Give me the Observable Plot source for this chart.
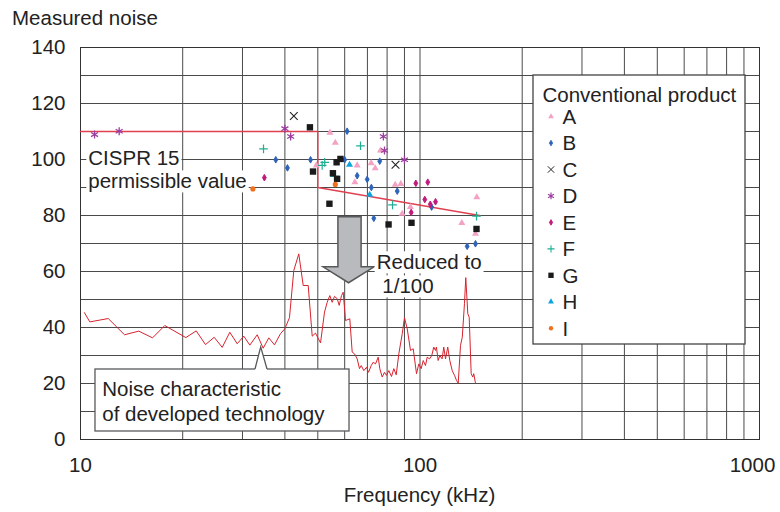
<!DOCTYPE html>
<html><head><meta charset="utf-8">
<script src="https://cdn.jsdelivr.net/npm/d3@7"></script>
<script src="https://cdn.jsdelivr.net/npm/@observablehq/plot@0.6"></script>
<style>
html,body{margin:0;padding:0;background:#fff;}
svg{display:block;}
</style></head><body>
<script>
// ---- tick / grid values ----
const yTicks = [0, 20, 40, 60, 80, 100, 120, 140];
const xTicks = [10, 100, 1000];
const xGrid = [10, 20, 30, 40, 50, 60, 70, 80, 90, 100, 200, 300, 400, 500, 600, 700, 800, 900, 1000];
const yGrid = [0, 10, 20, 30, 40, 50, 60, 70, 80, 90, 100, 110, 120, 130, 140];

// ---- CISPR 15 limit ----
const cisprFreq = [10, 50, 50, 150];
const cisprLevel = [110, 110, 90, 80];

// ---- developed technology noise ----
const noiseFreq = [10.27,10.65,12.07,13.48,14.85,16.30,17.71,20.43,21.92,23.34,24.76,26.15,27.53,28.94,30.27,31.53,33.15,34.52,35.86,37.27,38.82,39.97,
41.26,42.49,43.95,45.29,46.85,48.14,49.23,50.93,52.33,53.29,54.24,55.12,56.00,57.03,57.81,58.72,59.40,60.34,62.12,63.14,
64.14,65.31,66.35,67.12,68.32,69.57,70.52,71.83,72.80,73.95,75.32,76.14,77.39,78.60,79.67,80.93,82.43,83.72,85.10,86.63,
88.65,90.03,91.71,93.76,95.50,97.66,99.20,100.8,102.2,103.8,105.0,106.7,108.3,109.8,111.1,111.8,113.1,114.4,116.2,117.5,
118.9,120.7,122.4,124.4,126.4,128.1,129.6,131.6,133.2,135.2,136.4,138.3,139.6,141.5,143.0,144.0,145.7];
const noiseLevel = [45.3,42.0,43.2,37.4,38.7,36.3,40.7,36.4,38.8,33.9,36.5,32.9,38.3,34.2,36.9,33.7,37.4,32.6,36.3,33.8,37.8,39.5,
43.5,60.4,66.3,55.0,55.0,36.9,38.0,34.5,45.5,49.0,51.4,49.0,51.1,50.3,47.9,51.4,52.6,42.5,43.1,31.2,
30.6,28.8,25.3,26.4,24.6,25.8,24.0,26.4,27.6,27.0,29.4,25.3,22.3,24.0,22.9,24.6,22.5,25.3,23.1,30.6,
37.8,43.5,39.5,31.8,32.4,23.5,27.0,25.3,28.2,26.4,29.4,28.8,30.0,33.0,31.8,33.0,28.2,30.0,28.8,33.0,
28.8,33.0,28.2,24.6,22.9,21.1,20.1,33.6,36.5,48.5,57.8,44.9,43.7,23.5,22.3,23.5,20.1];

// ---- conventional products [frequency kHz, noise] ----
const seriesNames = ["A","B","C","D","E","F","G","H","I"];
const productA = [[54.3,109.6],[56.3,106.0],[49.5,97.9],[65.3,97.9],[64.3,91.9],[76.5,103.2],[71.8,98.7],[73.8,96.9],[84.5,91.0],[87.8,91.3],[93.7,83.0],[88.6,80.6],[147,86.5],[132.8,77.3],[145.7,73.5]];
const productB = [[61.0,110.1],[37.6,99.9],[47.6,99.9],[40.7,97.0],[60.0,99.9],[65.3,94.2],[69.9,92.9],[76.1,99.4],[71.9,90.0],[85.7,88.7],[108.2,83.0],[73.1,79.0],[137.7,69.0],[145.7,69.9]];
const productC = [[42.5,115.5],[84.7,98.1]];
const productD = [[11.0,108.9],[13.0,110.1],[40.0,111.0],[41.6,108.2],[78.0,108.2],[78.6,103.2],[90.0,99.9]];
const productE = [[34.8,93.5],[97.2,91.5],[105.4,91.9],[103.3,85.7],[107.2,84.0],[111.1,84.9],[94.2,81.1]];
const productF = [[34.6,103.8],[66.8,104.9],[52.4,99.0],[51.5,97.9],[56.0,94.0],[83.0,83.8],[146.7,79.8]];
const productG = [[47.4,111.5],[48.4,95.7],[58.3,100.2],[56.8,99.0],[55.4,95.1],[57.0,93.1],[54.1,84.2],[80.8,76.8],[94.4,77.4],[146.7,75.2]];
const productH = [[62.0,98.1],[71.1,87.4]];
const productI = [[32.2,89.5],[56.3,91.1]];
const productData = {A: productA, B: productB, C: productC, D: productD, E: productE, F: productF, G: productG, H: productH, I: productI};

// ---- styles (kept apart from data) ----
const sty = {
  A: {symbol: "triangle", color: "#f4a2c3", filled: true, r: 2.6, sw: 0},
  B: {symbol: "diamond", color: "#2e63b8", filled: true, r: 2.0, sw: 1},
  C: {symbol: "times", color: "#222222", filled: false, r: 3.6, sw: 1.1},
  D: {symbol: "asterisk", color: "#9b3d9f", filled: false, r: 3.8, sw: 1.3},
  E: {symbol: "diamond", color: "#c01a7c", filled: true, r: 2.0, sw: 1},
  F: {symbol: "plus", color: "#1fae93", filled: false, r: 2.9, sw: 1.2},
  G: {symbol: "square", color: "#1a1a1a", filled: true, r: 3.6, sw: 0},
  H: {symbol: "triangle", color: "#0aa5df", filled: true, r: 2.6, sw: 0},
  I: {symbol: "circle", color: "#f0701e", filled: true, r: 2.6, sw: 0}
};
const font = "'Liberation Sans', Arial, Helvetica, sans-serif";
const fs = 20.5;

// annotation geometry in data units
const arrowShape = [[57.5,79.4],[67.3,79.4],[67.3,61.5],[73.5,61.5],[61.8,55.8],[52.0,61.5],[57.5,61.5]];
const calloutBox = {f1: 11.07, f2: 62.0, v1: 25, v2: 2.86, baseL: 32.77, baseR: 35.55, tipF: 34.06, tipV: 32.9};
const annoTexts = [
  {text: "CISPR 15", f: 10.58, v: 97.9, box: true},
  {text: "permissible value", f: 10.58, v: 89.5, box: true},
  {text: "Reduced to", f: 74.8, v: 60.6, box: true},
  {text: "1/100", f: 77.7, v: 52.0, box: true},
  {text: "Noise characteristic", f: 11.63, v: 15.4, box: false},
  {text: "of developed technology", f: 11.63, v: 6.4, box: false}
];

const cispr = cisprFreq.map((f, i) => ({f, v: cisprLevel[i]}));
const noise = noiseFreq.map((f, i) => ({f, v: noiseLevel[i]}));

function arrowMark(index, {x, y}) {
  const p = d3.path();
  arrowShape.forEach(([f, v], i) => i ? p.lineTo(x(f), y(v)) : p.moveTo(x(f), y(v)));
  p.closePath();
  return d3.create("svg:path").attr("d", p.toString()).attr("fill", "#b9babd")
    .attr("stroke", "#58595b").attr("stroke-width", 1.5).attr("stroke-linejoin", "miter").node();
}
function calloutMark(index, {x, y}) {
  const g = d3.create("svg:g");
  const c = calloutBox;
  const x1 = x(c.f1), x2 = x(c.f2), y1 = y(c.v1), y2 = y(c.v2);
  g.append("rect").attr("x", x1).attr("y", y1).attr("width", x2 - x1).attr("height", y2 - y1)
    .attr("fill", "#fff").attr("stroke", "#58595b").attr("stroke-width", 1.3);
  const bl = x(c.baseL), br = x(c.baseR), tx = x(c.tipF), ty = y(c.tipV);
  g.append("path").attr("d", `M${bl},${y1 + 1.2}L${bl},${y1}L${tx},${ty}L${br},${y1}L${br},${y1 + 1.2}Z`).attr("fill", "#fff");
  g.append("path").attr("d", `M${bl},${y1}L${tx},${ty}L${br},${y1}`).attr("fill", "none")
    .attr("stroke", "#58595b").attr("stroke-width", 1.3);
  return g.node();
}

const dotMarks = seriesNames.map(k => {
  const s = sty[k];
  return Plot.dot(productData[k], {
    x: d => d[0], y: d => d[1], symbol: s.symbol, r: s.r,
    fill: s.filled ? s.color : "none",
    stroke: s.color, strokeWidth: s.sw
  });
});

const chart = Plot.plot({
  width: 780, height: 512,
  marginLeft: 80, marginRight: 21, marginTop: 47, marginBottom: 73,
  style: {fontFamily: font, fontSize: fs + "px", color: "#222", background: "#fff", overflow: "visible"},
  x: {type: "log", domain: [10, 1000], label: null},
  y: {domain: [0, 140], label: null},
  marks: [
    Plot.gridX({ticks: xGrid, stroke: "#4a4a4a", strokeOpacity: 1, strokeWidth: 1}),
    Plot.gridY({ticks: yGrid, stroke: "#4a4a4a", strokeOpacity: 1, strokeWidth: 1}),
    Plot.frame({stroke: "#333", strokeWidth: 1}),
    Plot.axisX({ticks: xTicks, tickSize: 0, tickPadding: 18, tickFormat: d3.format("d"), label: null, fontSize: fs}),
    Plot.axisY({ticks: yTicks, tickSize: 0, tickPadding: 15, label: null, fontSize: fs}),
    Plot.line(cispr, {x: "f", y: "v", stroke: "#e0404f", strokeWidth: 1.3}),
    Plot.line(noise, {x: "f", y: "v", stroke: "#d8232e", strokeWidth: 1}),
    ...dotMarks,
    arrowMark,
    calloutMark
  ]
});
document.body.append(chart);

// nudge the last x tick label inside the picture, as in the reference
d3.select(chart).selectAll("text").filter(function () { return this.textContent === "1000"; }).attr("dx", -7);

// ---- annotations via the plot's scales ----
const sx = chart.scale("x"), sy = chart.scale("y");
const svg = d3.select(chart);
const layer = svg.append("g").attr("font-family", font).attr("font-size", fs).attr("fill", "#222").attr("text-anchor", "start");
annoTexts.forEach(a => {
  const t = layer.append("text").attr("text-anchor", "start").attr("x", sx.apply(a.f)).attr("y", sy.apply(a.v)).text(a.text);
  if (a.box) {
    const b = t.node().getBBox();
    layer.insert("rect", () => t.node()).attr("x", b.x - 2).attr("y", b.y + 1).attr("width", b.width + 4)
      .attr("height", b.height - 1).attr("fill", "#fff");
  }
});

// axis titles
const [rx0, rx1] = sx.range;
svg.append("text").attr("text-anchor", "start").attr("x", 12).attr("y", 24.5).attr("font-family", font).attr("font-size", fs).attr("fill", "#222").text("Measured noise");
svg.append("text").attr("text-anchor", "middle").attr("x", (rx0 + rx1) / 2).attr("y", 502).attr("font-family", font).attr("font-size", fs).attr("fill", "#222").text("Frequency (kHz)");

// ---- legend ----
const symType = {triangle: d3.symbolTriangle, diamond: d3.symbolDiamond, times: d3.symbolTimes, asterisk: d3.symbolAsterisk, plus: d3.symbolPlus, square: d3.symbolSquare, circle: d3.symbolCircle};
const lg = svg.append("g").attr("font-family", font).attr("font-size", fs).attr("fill", "#222").attr("text-anchor", "start");
lg.append("rect").attr("x", 533).attr("y", 75).attr("width", 212).attr("height", 269)
  .attr("fill", "#fff").attr("stroke", "#444").attr("stroke-width", 1.3);
lg.append("text").attr("x", 542.5).attr("y", 101.5).text("Conventional product");
seriesNames.forEach((k, i) => {
  const s = sty[k];
  const cy = 116.6 + i * 26.45;
  const size = Math.PI * s.r * s.r * 0.7;
  lg.append("path").attr("transform", `translate(551,${cy})`)
    .attr("d", d3.symbol(symType[s.symbol], size)())
    .attr("fill", s.filled ? s.color : "none").attr("stroke", s.color).attr("stroke-width", s.sw * 0.9);
  lg.append("text").attr("x", 562.5).attr("y", cy + 7.4).text(k);
});
</script>
</body></html>
